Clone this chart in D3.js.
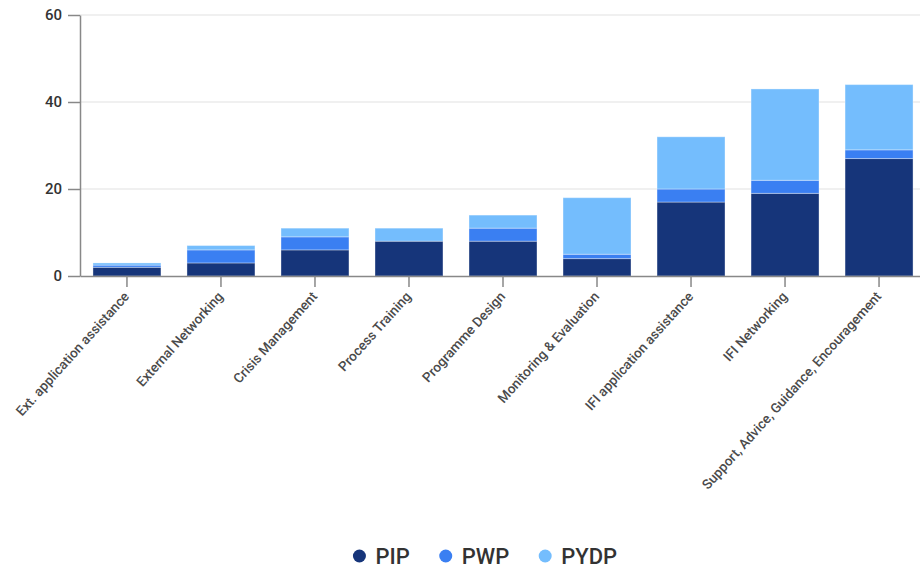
<!DOCTYPE html>
<html>
<head>
<meta charset="utf-8">
<script src="https://cdn.jsdelivr.net/npm/d3@7"></script>
<style>
  body { margin: 0; background: white; }
  svg { display: block; }
</style>
</head>
<body>
<div id="chart"></div>
<script>
var width = 920
var height = 568
var margin = {top: 15, right: -6, bottom: 292, left: 80}
var font = "Roboto, 'Noto Sans', sans-serif"

// Data

var categories = [
    "Ext. application assistance",
    "External Networking",
    "Crisis Management",
    "Process Training",
    "Programme Design",
    "Monitoring & Evaluation",
    "IFI application assistance",
    "IFI Networking",
    "Support, Advice, Guidance, Encouragement"
];
var seriesNames = ["PIP", "PWP", "PYDP"];
var PIP = [2, 3, 6, 8, 8, 4, 17, 19, 27];
var PWP = [0.5, 3, 3, 0, 3, 1, 3, 3, 2];
var PYDP = [0.5, 1, 2, 3, 3, 13, 12, 21, 15];
var yTicks = [0, 20, 40, 60];
var colors = ["#16357a", "#3a7ff2", "#74bdfd"];

var rows = categories.map(function(c, i) {
    return {cat: c, PIP: PIP[i], PWP: PWP[i], PYDP: PYDP[i]};
});

var stacked = d3.stack().keys(seriesNames)(rows);

var x_scale = d3.scaleBand()
    .domain(categories)
    .range([margin.left, width - margin.right])
    .paddingInner(0.277)
    .paddingOuter(0.138);

var y_scale = d3.scaleLinear()
    .domain([0, 60])
    .range([height - margin.bottom, margin.top]);

var c_scale = d3.scaleOrdinal()
    .domain(seriesNames)
    .range(colors);

var svg = d3.select("#chart")
    .append("svg")
    .attr("width", width)
    .attr("height", height)
    .style("font-family", font);

// Grid lines

svg.append("g")
    .selectAll("line")
    .data(yTicks.slice(1))
    .enter()
    .append("line")
    .attr("x1", margin.left)
    .attr("x2", width)
    .attr("y1", function(d) { return y_scale(d); })
    .attr("y2", function(d) { return y_scale(d); })
    .attr("stroke", "#ebebeb")
    .attr("stroke-width", 1.5);

// Bars

svg.append("g")
    .selectAll("g")
    .data(stacked)
    .enter()
    .append("g")
    .attr("fill", function(d) { return c_scale(d.key); })
    .selectAll("rect")
    .data(function(d) { return d; })
    .enter()
    .append("rect")
    .attr("x", function(d) { return x_scale(d.data.cat); })
    .attr("y", function(d) { return y_scale(d[1]); })
    .attr("height", function(d) { return y_scale(d[0]) - y_scale(d[1]); })
    .attr("width", x_scale.bandwidth())
    .attr("stroke", "rgba(255,255,255,0.35)")
    .attr("stroke-width", 1);

// Axes

var yAxis = d3.axisLeft(y_scale)
    .tickValues(yTicks)
    .tickSize(12)
    .tickSizeOuter(0)
    .tickPadding(6);

var xAxis = d3.axisBottom(x_scale)
    .tickSize(11)
    .tickSizeOuter(0);

var gx = svg.append("g")
    .attr("transform", "translate(0," + y_scale(0) + ")")
    .call(xAxis)
    .attr("font-family", font);

gx.selectAll("text")
    .attr("text-anchor", "end")
    .attr("x", 0)
    .attr("y", 0)
    .attr("dy", 0)
    .attr("transform", "translate(3,21) rotate(-48)")
    .style("font-size", "13.5px")
    .style("font-weight", 500)
    .attr("fill", "#4a4a4a");

var gy = svg.append("g")
    .attr("transform", "translate(" + margin.left + ",0)")
    .call(yAxis)
    .attr("font-family", font);

gy.selectAll("text")
    .style("font-size", "15px")
    .style("font-weight", 500)
    .attr("fill", "#333");

svg.selectAll(".domain, .tick line")
    .attr("stroke", "#888")
    .attr("stroke-width", 1.5);

// Legend

var legend = svg.append("g")
    .attr("transform", "translate(0,556)");

var item = legend.selectAll("g")
    .data(seriesNames)
    .enter()
    .append("g");

item.append("circle")
    .attr("r", 6.5)
    .attr("fill", function(d) { return c_scale(d); });

item.append("text")
    .attr("x", 16)
    .attr("dy", "0.36em")
    .style("font-size", "22px")
    .style("font-weight", 500)
    .attr("fill", "#333")
    .text(function(d) { return d; });

var pos = 0;
var offsets = [];
var lastW = 0;
item.each(function() {
    offsets.push(pos);
    lastW = d3.select(this).select("text").node().getComputedTextLength();
    pos += 16 + lastW + 36;
});
var total = pos - 36 + 6.5;
var startX = 485 - total / 2 + 6.5;
item.attr("transform", function(d, i) {
    return "translate(" + (startX + offsets[i]) + ",0)";
});
</script>
</body>
</html>
